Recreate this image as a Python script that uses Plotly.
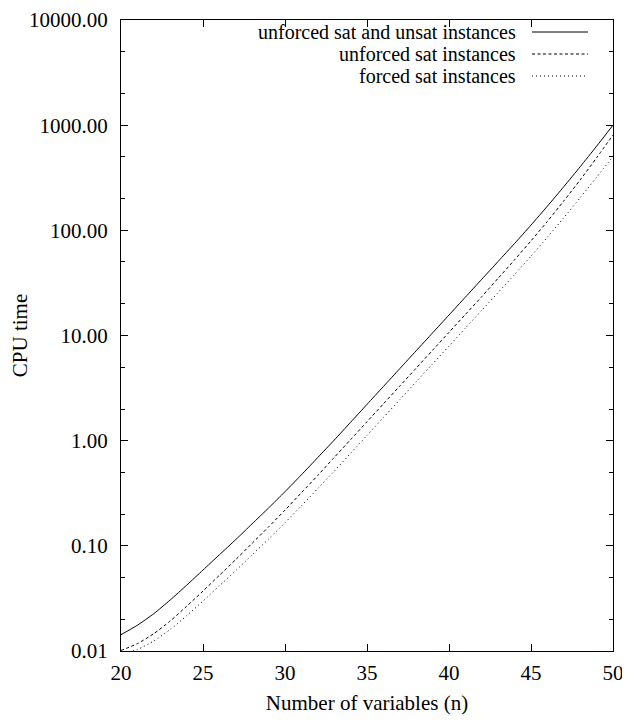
import plotly.graph_objects as go

n_vars = list(range(20, 51))

unforced_all = [0.01429, 0.01758, 0.02265, 0.03055, 0.04217, 0.05888, 0.08222, 0.1148, 0.1622, 0.2291,
                0.3273, 0.4732, 0.6918, 1.012, 1.496, 2.213, 3.273, 4.842, 7.161, 10.59,
                15.67, 23.17, 34.28, 50.70, 74.99, 112.2, 169.8, 260.0, 402.7, 631.0, 1000]
unforced_sat = [0.01012, 0.01175, 0.01462, 0.01928, 0.02661, 0.03715, 0.05248, 0.07413, 0.1059, 0.1514,
                0.2188, 0.3199, 0.4677, 0.6918, 1.023, 1.514, 2.239, 3.311, 4.898, 7.244,
                10.72, 15.85, 23.44, 35.08, 52.48, 79.43, 121.6, 190.5, 302.0, 489.8, 807.2]
forced_sat = [0.00955, 0.01035, 0.01245, 0.01603, 0.02163, 0.02985, 0.04169, 0.05821, 0.08222, 0.1161,
              0.1660, 0.2399, 0.3508, 0.5129, 0.7586, 1.122, 1.660, 2.455, 3.631, 5.370,
              7.943, 11.75, 17.38, 25.70, 38.02, 56.89, 86.10, 131.8, 204.2, 319.9, 504.7]

series_names = ["unforced sat and unsat instances", "unforced sat instances", "forced sat instances"]
series_dash = ["solid", "3px,2.5px", "1px,3px"]

y_tickvals = [0.01, 0.1, 1, 10, 100, 1000, 10000]
y_ticktext = ["0.01", "0.10", "1.00", "10.00", "100.00", "1000.00", "10000.00"]
y_minor = [m * d for d in [0.01, 0.1, 1, 10, 100, 1000] for m in (2, 5)]
x_tickvals = [20, 25, 30, 35, 40, 45, 50]

FONT = "Liberation Serif"
FS = 21

# page body margin offsets the figure by ~8px; target plot box in screen pixels
OFF = 8
W, H = 630 - OFF, 722 - OFF
L, R, T, B = 121 - OFF, 613 - OFF, 20 - OFF, 651 - OFF

fig = go.Figure()
for name, ys, dash in zip(series_names, [unforced_all, unforced_sat, forced_sat], series_dash):
    fig.add_trace(go.Scatter(x=n_vars, y=ys, mode="lines", name=name,
                             line=dict(color="black", width=1, dash=dash, shape="spline",
                                       smoothing=0.6),
                             showlegend=False))

# legend drawn manually (text left, sample line right) as in the original
leg_y = [32 - OFF, 54 - OFF, 76 - OFF]
for name, dash, yy in zip(series_names, series_dash, leg_y):
    yp = (B - yy) / (B - T)
    fig.add_annotation(xref="paper", yref="paper", x=(517 - OFF - L) / (R - L), y=yp,
                       text=name, showarrow=False, xanchor="right", yanchor="middle",
                       borderpad=0, font=dict(family=FONT, size=20, color="black"))
    fig.add_shape(type="line", xref="paper", yref="paper",
                  x0=(532 - OFF - L) / (R - L), x1=(588 - OFF - L) / (R - L), y0=yp, y1=yp,
                  line=dict(color="black", width=1, dash=dash))

fig.update_layout(
    width=W, height=H,
    margin=dict(l=L, r=W - R, t=T, b=H - B),
    paper_bgcolor="white", plot_bgcolor="white",
    font=dict(family=FONT, size=FS, color="black"),
    xaxis=dict(range=[20, 50], tickvals=x_tickvals, ticks="inside", ticklen=7,
               tickcolor="black", tickwidth=1, automargin=False, ticklabeloverflow="allow",
               showline=True, linecolor="black", linewidth=1.3, mirror="ticks",
               showgrid=False, zeroline=False, ticklabelstandoff=3,
               title=dict(text="Number of variables (n)", standoff=10,
                          font=dict(family=FONT, size=FS))),
    yaxis=dict(type="log", range=[-2, 4], tickvals=y_tickvals, ticktext=y_ticktext,
               ticks="inside", ticklen=7, tickcolor="black", tickwidth=1, automargin=False,
               ticklabeloverflow="allow",
               showline=True, linecolor="black", linewidth=1.3,
               mirror="ticks", showgrid=False, zeroline=False, ticklabelstandoff=8,
               minor=dict(tickvals=y_minor, ticks="inside", ticklen=4, tickcolor="black",
                          tickwidth=1, showgrid=False),
               title=dict(text="CPU time", standoff=0, font=dict(family=FONT, size=FS))),
)

fig.write_html("out.html")
